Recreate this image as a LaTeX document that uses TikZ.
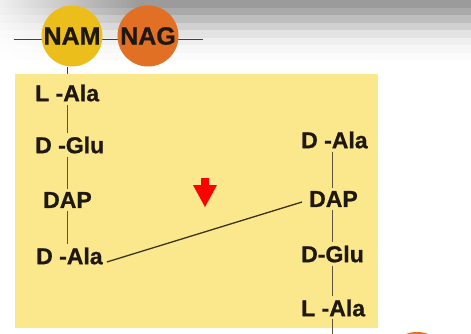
\documentclass[tikz,border=0pt]{standalone}
\usepackage{fontspec}
\setmainfont{Liberation Sans}[BoldFeatures={FakeBold=0.9}]
\usetikzlibrary{backgrounds,fadings}
\definecolor{pad}{RGB}{251,231,140}
\definecolor{ink}{RGB}{30,24,16}
\definecolor{namc}{RGB}{236,190,28}
\definecolor{nagc}{RGB}{226,112,36}
\definecolor{linkc}{RGB}{95,85,60}
\definecolor{bridgec}{RGB}{60,52,25}
\tikzfading[name=whiteleft, left color=transparent!15, right color=transparent!100]
\begin{document}
\begin{tikzpicture}[x=1pt,y=-1pt,
  aa/.style={font=\fontsize{23}{23}\selectfont\bfseries, text=ink, inner sep=0pt, anchor=west},
  sugar/.style={circle, minimum size=61pt, inner sep=0pt,
    font=\fontsize{25}{25}\selectfont\bfseries, text=ink},
  link/.style={draw=linkc, line width=1pt}]
\useasboundingbox (0,0) rectangle (471,333);

% sugar backbone
\node[sugar, fill=namc] (nam) at (72,36) {NAM};
\node[sugar, fill=nagc] (nag) at (148,36) {NAG};

% left stem peptide
\node[aa] (lalaL) at (35,93)  {L -Ala};
\node[aa] (dgluL) at (35,145) {D -Glu};
\node[aa] (dapL)  at (43,200) {DAP};
\node[aa] (dalaL) at (36,256) {D -Ala};

% right stem peptide
\node[aa] (dalaR) at (301,140) {D -Ala};
\node[aa] (dapR)  at (309,199) {DAP};
\node[aa] (dgluR) at (301,254) {D-Glu};
\node[aa] (lalaR) at (301,308) {L -Ala};

\coordinate (xl) at (67,0);
\coordinate (xr) at (332,0);
\coordinate (hl) at (14,39);
\coordinate (hr) at (203,39);
\coordinate (rbot) at (332,340);

\begin{scope}[on background layer]
  % grey header bands
  \foreach \i/\g in {0/155,1/169,2/190,3/209,4/227,5/239,6/246,7/251}{
    \definecolor{band}{RGB}{\g,\g,\g}
    \fill[band] (0,\i*7.5) rectangle (471,\i*7.5+7.6);
  }
  \fill[white, path fading=whiteleft] (0,0) rectangle (140,60);
  % glycan chain and link down to the peptide
  \draw[line width=0.9pt, draw=black!75] (hl) -- (hr);
  \draw[line width=0.9pt, draw=black!75] (nam.south -| xl) -- (lalaL.north -| xl);
  % peptide layer
  \fill[pad] (15,74) rectangle (378,328);
  % glycan strand continuing below
  \fill[nagc] (417,364) circle (32);
\end{scope}

\draw[link] ([yshift=-3]lalaL.south -| xl) -- ([yshift=3]dgluL.north -| xl);
\draw[link] ([yshift=-3]dgluL.south -| xl) -- ([yshift=3]dapL.north -| xl);
\draw[link] ([yshift=-3]dapL.south -| xl) -- ([yshift=3]dalaL.north -| xl);

\draw[link] ([yshift=-3]dalaR.south -| xr) -- ([yshift=3]dapR.north -| xr);
\draw[link] ([yshift=-3]dapR.south -| xr) -- ([yshift=3]dgluR.north -| xr);
\draw[link] ([yshift=-3]dgluR.south -| xr) -- ([yshift=3]lalaR.north -| xr);
\draw[link] ([yshift=-2]lalaR.south -| xr) -- (rbot);

% interpeptide cross-link
\draw[draw=bridgec, line width=1.3pt] ([shift={(4,6)}]dalaL.east) -- ([shift={(-7,3)}]dapR.west);

% marker
\fill[red] (201,178) -- (209,178) -- (209,185) -- (217,185) -- (205,207)
  -- (193,185) -- (201,185) -- cycle;
\end{tikzpicture}
\end{document}
